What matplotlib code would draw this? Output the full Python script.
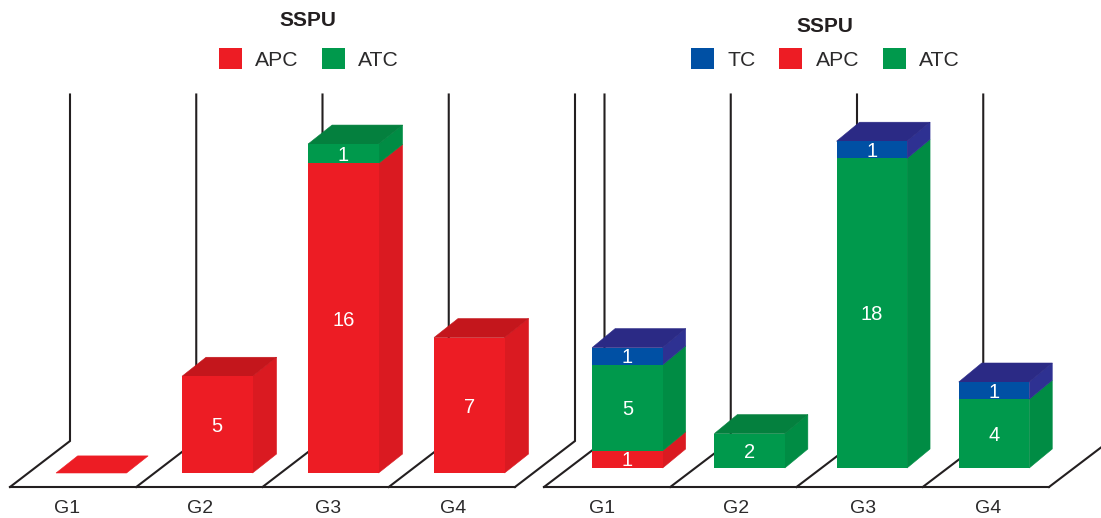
import numpy as np
import matplotlib
matplotlib.use("Agg")
import matplotlib.pyplot as plt
from matplotlib.patches import Polygon

plt.rcParams['font.family'] = ['Liberation Sans', 'DejaVu Sans']

categories = ["G1", "G2", "G3", "G4"]
left_apc = [0, 5, 16, 7]
left_atc = [0, 0, 1, 0]
right_apc = [1, 0, 0, 0]
right_atc = [5, 2, 18, 4]
right_tc = [1, 0, 1, 1]
chart_title = "SSPU"

W, H = 1101, 518
INK = "#231F20"
COLORS = {
    "APC": ("#ED1C24", "#DA1A21", "#C4161C"),
    "ATC": ("#00994C", "#008C44", "#04803E"),
    "TC": ("#0050A4", "#2E3192", "#2B2A85"),
}


def panel(fig, floor_x0, floor_x1, first_center, spacing, base_y, unit, depth, wall_dx,
          label_px, text_drop, stack, legend_order, legend_center, legend_kw, title_xy):
    floor_y, top_y = 487, 94.5
    ax = fig.add_axes([floor_x0 / W, 1 - floor_y / H,
                       (floor_x1 - floor_x0) / W, (floor_y - top_y) / H])
    ax.patch.set_alpha(0)
    ax.set_xlim((floor_x0 - first_center) / spacing, (floor_x1 - first_center) / spacing)
    ax.set_ylim((base_y - floor_y) / unit, (base_y - top_y) / unit)
    for name in ("top", "left", "right"):
        ax.spines[name].set_visible(False)
    ax.spines["bottom"].set_color(INK)
    ax.spines["bottom"].set_linewidth(1.5)
    ax.set_yticks([])
    ax.set_xticks([(p - first_center) / spacing for p in label_px], categories)
    ax.tick_params(axis="x", length=0, pad=9.2, labelsize=14, labelcolor="#2b2a2b")

    # walls and floor dividers
    to_data = lambda px_x, px_y: ((px_x - first_center) / spacing, (base_y - px_y) / unit)
    for k in range(5):
        bx = floor_x0 + (floor_x1 - floor_x0) * k / 4
        pts = [to_data(bx, floor_y), to_data(bx + wall_dx, 441), to_data(bx + wall_dx, top_y)]
        ax.plot(*zip(*pts), color=INK, lw=1.5, clip_on=False, zorder=1,
                solid_joinstyle="miter")

    width = 70.5 / spacing
    dx, dv = depth[0] / spacing, depth[1] / unit
    x = np.arange(len(categories), dtype=float)
    bottom = np.zeros(len(categories))
    handles = {}
    for name, values in stack:
        values = np.asarray(values, dtype=float)
        front, side, top = COLORS[name]
        handles[name] = ax.bar(x, values, width, bottom=bottom, color=front,
                               zorder=4, label=name)
        for xi, b, v in zip(x, bottom, values):
            if v > 0:
                r = xi + width / 2
                ax.add_patch(Polygon([(r, b), (r + dx, b + dv), (r + dx, b + v + dv), (r, b + v)],
                                     closed=True, fc=side, ec=side, lw=0.4, zorder=3, clip_on=False))
                ax.annotate(f"{int(v)}", (xi, b + v / 2), xytext=(0, -text_drop * 0.72),
                            textcoords="offset points", color="white", fontsize=14.5,
                            ha="center", va="center", zorder=6)
        bottom = bottom + values

    # top faces
    for i, xi in enumerate(x):
        total = bottom[i]
        top_name = [n for n, v in stack if v[i] > 0][-1] if total > 0 else stack[0][0]
        fc = COLORS[top_name][2] if total > 0 else COLORS[top_name][0]
        f = 1.0 if total > 0 else 0.9
        l, r = xi - width / 2, xi + width / 2
        ax.add_patch(Polygon([(l, total), (r, total), (r + dx * f, total + dv * f), (l + dx * f, total + dv * f)],
                             closed=True, fc=fc, ec=fc, lw=0.4, zorder=3, clip_on=False))

    ax.legend(handles=[handles[n] for n in legend_order], labels=list(legend_order),
              loc="center", bbox_to_anchor=(legend_center[0] / W, 1 - legend_center[1] / H),
              bbox_transform=fig.transFigure, ncols=len(legend_order), frameon=False,
              fontsize=15.2, borderpad=0, borderaxespad=0, handlelength=1.09, handleheight=1.09,
              handletextpad=0.62, labelcolor="#2b2a2b", **legend_kw)
    fig.text(title_xy[0] / W, 1 - title_xy[1] / H, chart_title, fontsize=15, fontweight="bold",
             color=INK, ha="center", va="center")
    return ax


fig = plt.figure(figsize=(W / 100, H / 100), dpi=100, facecolor="white")

panel(fig, 10, 515, 91.3, 126, 473, 19.35, (24, 19), 60, [67, 200, 328, 453], 2,
      [("APC", left_apc), ("ATC", left_atc)], ["APC", "ATC"],
      (309, 59), dict(columnspacing=1.12), (308, 20))

panel(fig, 544, 1049, 627.4, 122.2, 468, 17.2, (23, 19), 60.5, [602, 736, 863, 988], 1.5,
      [("APC", right_apc), ("ATC", right_atc), ("TC", right_tc)], ["TC", "APC", "ATC"],
      (825.5, 59), dict(columnspacing=1.12), (825, 26))

fig.savefig("out.png", dpi=100)
